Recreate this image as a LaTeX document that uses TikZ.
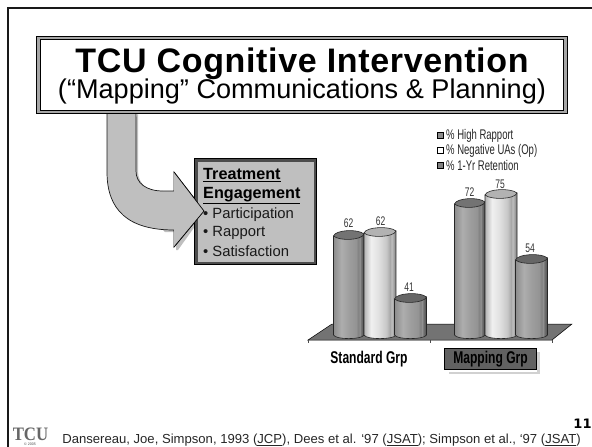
\documentclass[tikz,border=0pt]{standalone}
\usepackage{fontspec}
\usepackage{graphicx}
\setmainfont{Liberation Sans}
\newfontfamily\logofont{Liberation Serif}
\newfontfamily\numfont{DejaVu Sans}
\pgfdeclarehorizontalshading{cyldark}{100bp}{color(0bp)=(black!45);color(25bp)=(black!45);color(38bp)=(black!32);color(50bp)=(black!38);color(62bp)=(black!42);color(66bp)=(black!50);color(68bp)=(black!42);color(70bp)=(black!55);color(75bp)=(black!70);color(100bp)=(black!70)}
\pgfdeclarehorizontalshading{cyllight}{100bp}{color(0bp)=(black!30);color(25bp)=(black!30);color(36bp)=(black!6);color(48bp)=(black!12);color(60bp)=(black!22);color(66bp)=(black!35);color(68bp)=(black!25);color(70bp)=(black!32);color(75bp)=(black!50);color(100bp)=(black!50)}
\newcommand\nar[2][.68]{\scalebox{#1}[1]{#2}}
\newcommand\cyl[7]{% xl xr ytop ybot shading topfill name
  \pgfmathsetmacro\cxl{#1}\pgfmathsetmacro\cxr{#2}
  \pgfmathsetmacro\cyt{#3}\pgfmathsetmacro\cyb{#4}
  \pgfmathsetmacro\cup{\cyt-5.3}\pgfmathsetmacro\cdn{\cyt+5.3}\pgfmathsetmacro\cbt{\cyb+4.8}
  \path[draw=black!85,line width=.6pt,shading=#5] (\cxl,\cyt+1) -- (\cxl,\cyb) .. controls (\cxl+2,\cbt) and (\cxr-2,\cbt) .. (\cxr,\cyb) -- (\cxr,\cyt-1) -- cycle;
  \path[draw=black!85,line width=.6pt,fill=#6] (\cxl,\cyt+1) .. controls (\cxl+2,\cup) and (\cxr-6,\cup-1) .. (\cxr,\cyt-1) .. controls (\cxr-2,\cdn) and (\cxl+6,\cdn+1) .. (\cxl,\cyt+1) -- cycle;
  \coordinate (#7) at (\cxl,\cyt);
}
\tikzset{
  lab/.style={inner sep=0pt,font=\fontsize{12.5}{12.5}\selectfont,text=black!80},
  legtxt/.style={inner sep=0pt,anchor=west,font=\fontsize{14}{14}\selectfont,text=black!85},
  legbox/.style={draw=black,line width=.6pt,minimum size=6.3pt,inner sep=0pt},
  grp/.style={inner sep=0pt,font=\fontsize{17}{17}\selectfont\bfseries},
  eng/.style={inner sep=0pt,anchor=west,font=\fontsize{16.2}{16.2}\selectfont\bfseries},
  item/.style={inner sep=0pt,anchor=west,font=\fontsize{14.8}{14.8}\selectfont,text=black!90},
}
\begin{document}
\begin{tikzpicture}[x=1pt,y=-1pt]
\useasboundingbox (0,0) rectangle (592,447);
% slide frame
\draw[line width=2.6pt,black!90] (8,447) -- (8,8) -- (592,8);
% arrow shadow
\fill[black!25] (138,113) -- (138,171) .. controls (138,184) and (148,193) .. (166,193) -- (176,193) -- (176,176) -- (206,211) -- (178,250) -- (176,250) -- (176,232) -- (165,232) -- (110,180) -- cycle;
% arrow
\draw[fill=black!25,line width=.7pt,black!90,fill=black!25] (107,113) -- (107,172) .. controls (107,210) and (128,230) .. (174,230) -- (174,247) -- (204,211) -- (174,172) -- (174,191) -- (163,191) .. controls (146,191) and (136,183) .. (136,171) -- (136,113) -- cycle;
% title box
\draw[fill=black!35,line width=.7pt] (36.8,36) rectangle (567.2,113.5);
\draw[fill=white,line width=.7pt] (40.5,39.5) rectangle (563,110);
\node[inner sep=0pt,anchor=base,font=\fontsize{34}{34}\selectfont\bfseries] (title) at (302,72) {\addfontfeature{LetterSpace=1.9}TCU Cognitive Intervention};
\node[inner sep=0pt,anchor=base,font=\fontsize{27.1}{27.1}\selectfont] (subtitle) at (302,98) {(“Mapping” Communications \& Planning)};
% engagement box
\draw[fill=black!70,draw=black,line width=1.2pt] (194.5,158.5) rectangle (316.5,264.5);
\fill[black!25] (197.5,161.5) rectangle (314,262);
\draw[line width=.7pt,fill=black!25] (174,172) -- (204,211) -- (174,247);
\node[eng] (treat) at (203,175) {\underline{Treatment}};
\node[eng] (engage) at (203,195.5) {\underline{Engagement}};
\node[item] (i1) at (203,215) {• Participation};
\node[item] (i2) at (203,233) {• Rapport};
\node[item] (i3) at (203,251) {• Satisfaction};
% floor
\fill[black!55,draw=black,line width=.5pt] (308,340) -- (332,324) -- (572,324) -- (552,340) -- cycle;
\draw[line width=.5pt,black!70] (308,340) -- (308,343) (430,340) -- (430,343) (552,340) -- (552,343);
% cylinders
\cyl{333.5}{364}{235}{335}{cyldark}{black!55}{c1}
\cyl{364}{396}{232}{335}{cyllight}{black!30}{c2}
\cyl{394.5}{426.5}{298}{335}{cyldark}{black!60}{c3}
\cyl{454.5}{485}{203}{335}{cyldark}{black!55}{c4}
\cyl{485}{517}{194}{335}{cyllight}{black!30}{c5}
\cyl{515.5}{547.5}{259}{335}{cyldark}{black!60}{c6}
% values
\node[lab] (v1) at (348.5,223) {\nar{62}};
\node[lab] (v2) at (380.5,221) {\nar{62}};
\node[lab] (v3) at (409,287) {\nar{41}};
\node[lab] (v4) at (469.5,192) {\nar{72}};
\node[lab] (v5) at (500,184) {\nar{75}};
\node[lab] (v6) at (530,248) {\nar{54}};
% legend
\node[legbox,fill=black!45] (k1) at (440.5,135) {};
\node[legbox,fill=white] (k2) at (440.5,150) {};
\node[legbox,fill=black!50] (k3) at (440.5,165) {};
\node[legtxt] (t1) at (446,135.5) {\nar{\% High Rapport}};
\node[legtxt] (t2) at (446,150.5) {\nar{\% Negative UAs (Op)}};
\node[legtxt] (t3) at (446,165.5) {\nar{\% 1-Yr Retention}};
% categories
\node[grp] (std) at (369,359) {\nar[.71]{Standard Grp}};
\fill[black!18] (449,372) rectangle (540,373.5);
\fill[black!18] (537,352) rectangle (539.5,373);
\node[draw=black,line width=.7pt,fill=black!62,minimum width=92pt,minimum height=21.5pt,inner sep=0pt] (mapbox) at (490.5,359) {};
\node[grp] (map) at (490.5,359) {\nar[.71]{Mapping Grp}};
% logo
\node[inner sep=0pt,anchor=base,font=\fontsize{20}{20}\selectfont\logofont\bfseries,text=black!60] (logo) at (30.5,440) {\scalebox{.84}[.95]{TCU}};
\node[inner sep=0pt,anchor=north,font=\fontsize{3.6}{3.6}\selectfont,text=black!70] (logoc) at (30,443) {© 2005};
% footer
\node[inner sep=0pt,font=\fontsize{13.1}{13.1}\selectfont,text=black!85] (cite) at (321.5,440) {Dansereau, Joe, Simpson, 1993 (\underline{JCP}), Dees et al. ‘97 (\underline{JSAT}); Simpson et al., ‘97 (\underline{JSAT})};
\node[inner sep=0pt,font=\fontsize{13}{13}\selectfont\numfont\bfseries] (num) at (582.5,424) {11};
\end{tikzpicture}
\end{document}
